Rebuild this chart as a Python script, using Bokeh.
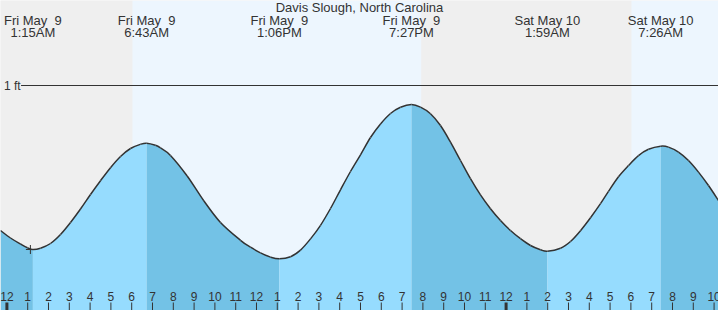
from bokeh.plotting import figure
from bokeh.models import Range1d
from bokeh.core.properties import value
from bokeh.embed import file_html
from bokeh.resources import INLINE

# ---------------- data (hours since Fri May 9 00:00, heights in ft) ----------------
title_text = "Davis Slough, North Carolina"

event_hours = [1.25, 6.717, 13.1, 19.45, 25.983, 31.433]
event_heights = [0.18, 0.7115, 0.1335, 0.905, 0.1715, 0.6965]
event_dates = ["Fri May \u00a09", "Fri May \u00a09", "Fri May \u00a09", "Fri May \u00a09",
               "Sat May 10", "Sat May 10"]
event_times = ["1:15AM", "6:43AM", "1:06PM", "7:27PM", "1:59AM", "7:26AM"]

curve_hours = [-0.308, 0.173, 0.654, 0.990,
               1.615, 2.096, 2.577, 3.058, 3.538, 4.019, 4.5, 4.981, 5.462, 5.942, 6.423,
               7.144, 7.385, 7.865, 8.668, 9.466, 10.269, 11.231, 11.712, 12.192, 12.673,
               13.635, 14.115, 14.596, 15.077, 15.558, 16.038, 16.519, 17.0, 17.481, 17.962,
               18.442, 18.923,
               19.885, 20.365, 20.846, 21.327, 21.808, 22.288, 22.769, 23.25, 23.731, 24.212,
               24.692, 25.173, 25.654,
               26.615, 27.096, 27.577, 28.058, 28.538, 28.923, 29.404, 29.885, 30.365, 30.846,
               31.808, 32.288, 32.769, 33.25, 33.731, 34.212]
curve_heights = [0.275, 0.2375, 0.2075, 0.1885,
                 0.1865, 0.21, 0.255, 0.315, 0.3825, 0.455, 0.524, 0.589, 0.645, 0.685, 0.706,
                 0.701, 0.688, 0.6505, 0.5475, 0.4235, 0.315, 0.226, 0.1915, 0.163, 0.142,
                 0.144, 0.177, 0.233, 0.301, 0.385, 0.4785, 0.57, 0.6535, 0.74, 0.8075,
                 0.86, 0.891,
                 0.892, 0.859, 0.80, 0.717, 0.625, 0.534, 0.453, 0.384, 0.325, 0.275,
                 0.234, 0.20, 0.179,
                 0.186, 0.22, 0.274, 0.3385, 0.409, 0.471, 0.544, 0.60, 0.6495, 0.681,
                 0.692, 0.667, 0.625, 0.567, 0.50, 0.425]

# sunrise / sunset (hours)
sun_changes = [6.04, 19.93, 30.03]

# hour ticks
tick_hours = list(range(0, 35))
tick_labels = ["12", "1", "2", "3", "4", "5", "6", "7", "8", "9", "10", "11",
               "12", "1", "2", "3", "4", "5", "6", "7", "8", "9", "10", "11",
               "12", "1", "2", "3", "4", "5", "6", "7", "8", "9", "10"]

marker_hour = [1.13]
marker_height = [0.18]
ref_level = 1.0
ref_label = "1 ft"

# ---------------- styling ----------------
X0, X1 = -0.3077, 34.212
Y0, Y1 = -0.125, 1.425
NIGHT = "#efefef"
DAY = "#edf6fe"
RISE = "#96dcfe"
FALL = "#73c2e6"
INK = "#333333"
FONT = value("Liberation Sans")

p = figure(width=718, height=310, x_range=Range1d(X0, X1), y_range=Range1d(Y0, Y1),
           output_backend="svg", toolbar_location=None, min_border=0)
p.axis.visible = False
p.grid.visible = False
p.outline_line_color = None
p.background_fill_color = NIGHT
p.border_fill_color = NIGHT

# day / night background
edges = [X0] + sun_changes + [X1]
bg_left, bg_right, bg_col = [], [], []
for i in range(len(edges) - 1):
    bg_left.append(edges[i]); bg_right.append(edges[i + 1])
    bg_col.append(NIGHT if i % 2 == 0 else DAY)
p.quad(left=bg_left, right=bg_right, bottom=Y0, top=Y1, fill_color=bg_col, line_color=None)

# reference line
p.segment(x0=[0.68], x1=[X1], y0=[ref_level], y1=[ref_level], line_color=INK, line_width=1)
p.text(x=[0.66], y=[ref_level], text=[ref_label], text_align="right", text_baseline="middle",
       text_font=FONT, text_font_size="12px", text_color=INK)

# merged curve
pts = sorted(list(zip(curve_hours, curve_heights)) + list(zip(event_hours, event_heights)))
hx = [a for a, b in pts]
hy = [b for a, b in pts]

bounds = [hx[0]] + event_hours + [hx[-1]]
for i in range(len(bounds) - 1):
    a, b = bounds[i], bounds[i + 1]
    xs = [x for x in hx if a - 1e-9 <= x <= b + 1e-9]
    ys = [y for x, y in zip(hx, hy) if a - 1e-9 <= x <= b + 1e-9]
    col = FALL if i % 2 == 0 else RISE
    p.varea(x=xs, y1=[Y0] * len(xs), y2=ys, fill_color=col)

# smooth outline through the read points (Catmull-Rom as cubic Bezier pieces)
n = len(hx)
bx0, by0, bx1, by1, cx0, cy0, cx1, cy1 = [], [], [], [], [], [], [], []
for i in range(n - 1):
    i0 = max(i - 1, 0); i3 = min(i + 2, n - 1)
    bx0.append(hx[i]); by0.append(hy[i]); bx1.append(hx[i + 1]); by1.append(hy[i + 1])
    cx0.append(hx[i] + (hx[i + 1] - hx[i0]) / 6); cy0.append(hy[i] + (hy[i + 1] - hy[i0]) / 6)
    cx1.append(hx[i + 1] - (hx[i3] - hx[i]) / 6); cy1.append(hy[i + 1] - (hy[i3] - hy[i]) / 6)
p.bezier(x0=bx0, y0=by0, x1=bx1, y1=by1, cx0=cx0, cy0=cy0, cx1=cx1, cy1=cy1,
         line_color=INK, line_width=1.5)

p.scatter(marker_hour, marker_height, marker="cross", size=9, line_color=INK, line_width=1)

# title and event labels
p.text(x=[(X0 + X1) / 2], y=[1.389], text=[title_text], text_align="center", text_baseline="middle",
       text_font=FONT, text_font_size="13px", text_color=INK)
p.text(x=event_hours, y=[1.325] * len(event_hours), text=event_dates, text_align="center",
       text_baseline="middle", text_font=FONT, text_font_size="13px", text_color=INK)
p.text(x=event_hours, y=[1.267] * len(event_hours), text=event_times, text_align="center",
       text_baseline="middle", text_font=FONT, text_font_size="13px", text_color=INK)

# hour ticks
widths = [3 if lab == "12" and h % 24 == 0 else 1 for h, lab in zip(tick_hours, tick_labels)]
p.segment(x0=tick_hours, x1=tick_hours, y0=[-0.085] * len(tick_hours), y1=[Y0] * len(tick_hours),
          line_color=INK, line_width=widths)
p.text(x=tick_hours, y=[-0.055] * len(tick_hours), text=tick_labels, text_align="center",
       text_baseline="middle", text_font=FONT, text_font_size="12px", text_color=INK)

open("out.html", "w").write(file_html(p, INLINE))
